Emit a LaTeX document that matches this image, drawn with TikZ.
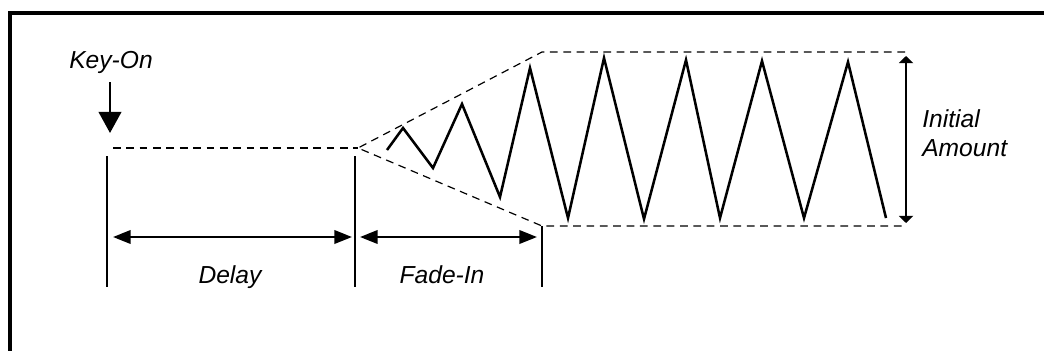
\documentclass[tikz,border=0pt]{standalone}
\usepackage{fontspec}
\setmainfont{Liberation Sans}
\usetikzlibrary{arrows.meta,positioning}

\begin{document}
\begin{tikzpicture}[x=0.025cm,y=-0.025cm,
  lbl/.style={font=\fontsize{17.5}{20.5}\selectfont\itshape,inner sep=0pt,align=left},
  env/.style={dash pattern=on 5.5pt off 4pt,line width=0.85pt},
  tick/.style={line width=1.6pt},
  dim/.style={line width=1.7pt,{Triangle[length=12.5pt,width=9.5pt]}-{Triangle[length=12.5pt,width=9.5pt]}},
  amt/.style={line width=1.7pt,{Triangle[length=5pt,width=10pt]}-{Triangle[length=5pt,width=10pt]}},
  keyarr/.style={line width=1.7pt,-{Triangle[length=15pt,width=16pt]}},
  wave/.style={line width=1.8pt,line join=miter}
]
  \useasboundingbox (0,0) rectangle (1044,350);
  % frame
  \draw[line width=2.2pt] (1050,13) -- (10,13) -- (10,356);

  % labels
  \node[lbl,anchor=base] (keyon) at (111,68) {Key-On};
  \node[lbl,anchor=base] (delay) at (230,283) {Delay};
  \node[lbl,anchor=base] (fade) at (442,283) {Fade-In};
  \node[lbl,anchor=base west] (amount) at (922,156) {Initial\\Amount};

  % points
  \coordinate (kt) at (110,82);
  \coordinate (kh) at (110,133);
  \coordinate (d0) at (113,148);
  \coordinate (fs) at (358,148);
  \coordinate (ut) at (542,52);
  \coordinate (ue) at (905,52);
  \coordinate (lt) at (542,226);
  \coordinate (le) at (905,226);

  % key-on arrow
  \draw[keyarr] (kt) -- (kh);

  % envelope
  \draw[env] (d0) -- (fs);
  \draw[env] (ue) -- (ut) -- (fs) -- (lt) -- (le);

  % marks
  \draw[tick] (107,156) -- (107,287);
  \draw[tick] (355,156) -- (355,287);
  \draw[tick] (542,226) -- (542,287);

  % spans
  \coordinate (da) at (113,237);
  \coordinate (db) at (352,237);
  \coordinate (fa) at (360,237);
  \coordinate (fb) at (537,237);
  \draw[dim] (da) -- (db);
  \draw[dim] (fa) -- (fb);
  \coordinate (aa) at (906,56);
  \coordinate (ab) at (906,223);
  \draw[amt] (aa) -- (ab);

  % vibrato
  \draw[wave] (387,150) -- (403,128) -- (433,168) -- (462,104) -- (500,197)
    -- (530,68) -- (568,218) -- (604,58) -- (644,219) -- (686,60) -- (720,218)
    -- (762,61) -- (804,218) -- (848,62) -- (886,218);
\end{tikzpicture}
\end{document}
